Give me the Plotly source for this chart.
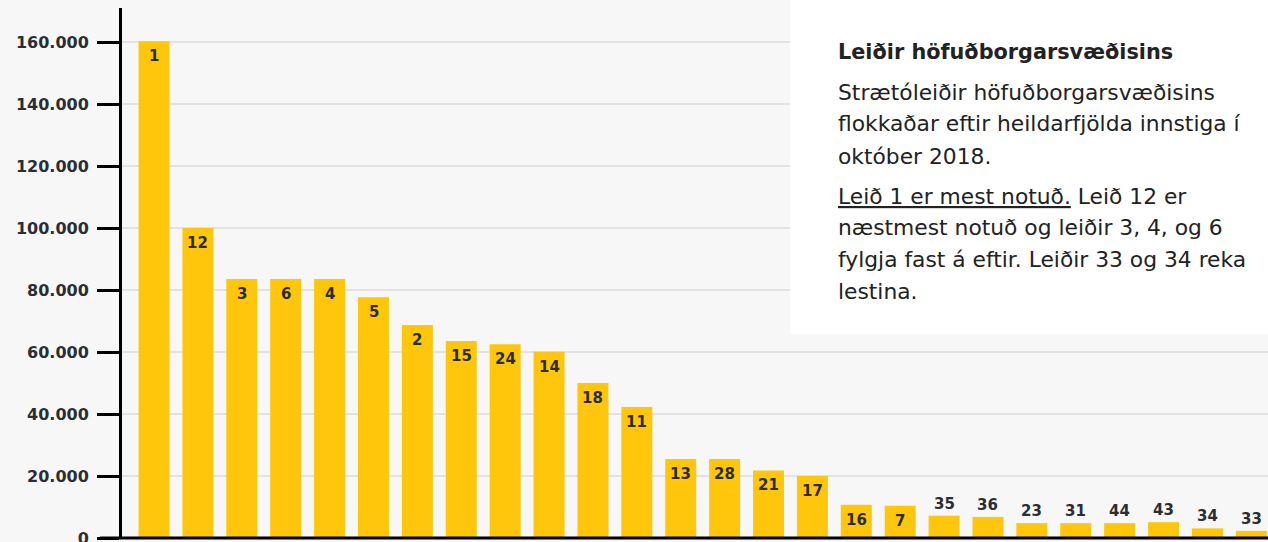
import plotly.graph_objects as go

routes = ["1", "12", "3", "6", "4", "5", "2", "15", "24", "14", "18", "11", "13",
          "28", "21", "17", "16", "7", "35", "36", "23", "31", "44", "43", "34", "33"]
boardings = [160300, 100000, 83600, 83600, 83600, 77700, 68700, 63600, 62500, 60100,
             50000, 42300, 25500, 25500, 21800, 20000, 10700, 10400, 7200, 6800,
             4800, 4800, 4800, 5100, 3100, 2300]
tick_vals = [0, 20000, 40000, 60000, 80000, 100000, 120000, 140000, 160000]
tick_text = ["0", "20.000", "40.000", "60.000", "80.000", "100.000", "120.000", "140.000", "160.000"]

title_text = "<b>Leiðir höfuðborgarsvæðisins</b>"
body_lines = [
    "Strætóleiðir höfuðborgarsvæðisins",
    "flokkaðar eftir heildarfjölda innstiga í",
    "október 2018.",
    "<u>Leið 1 er mest notuð.</u> Leið 12 er",
    "næstmest notuð og leiðir 3, 4, og 6",
    "fylgja fast á eftir. Leiðir 33 og 34 reka",
    "lestina.",
]

W, H = 1268, 542
ML, MR, MT, MB = 122, 0, 8, 4
PW, PH = W - ML - MR, H - MT - MB

BAR = "#FFC60B"
BG = "#F7F7F7"
TXT = "#2b2d33"
FONT = "DejaVu Sans"

fig = go.Figure()
fig.add_trace(go.Bar(
    x=routes, y=boardings, marker=dict(color=BAR, line=dict(width=0)),
    width=0.706, hoverinfo="x+y",
))

annotations = []
for i, (r, v) in enumerate(zip(routes, boardings)):
    inside = v > 9000
    annotations.append(dict(
        x=i, y=v, xref="x", yref="y", text="<b>%s</b>" % r, showarrow=False,
        yanchor="middle", yshift=(-15 if inside else 12),
        font=dict(family=FONT, size=15, color=TXT),
    ))


def px_to_paper_x(px):
    return (px - ML) / PW


def px_to_paper_y(py):
    return (H - MB - py) / PH


annotations.append(dict(
    x=px_to_paper_x(836), y=px_to_paper_y(52), xref="paper", yref="paper",
    text=title_text, showarrow=False, xanchor="left", yanchor="middle",
    font=dict(family=FONT, size=20.8, color="#222222"),
))
line_y = [93, 124, 156, 196, 227, 259, 291]
for t, py in zip(body_lines, line_y):
    annotations.append(dict(
        x=px_to_paper_x(836), y=px_to_paper_y(py), xref="paper", yref="paper",
        text=t, showarrow=False, xanchor="left", yanchor="middle",
        font=dict(family=FONT, size=21.8, color="#222222"),
    ))

shapes = [
    dict(type="rect", xref="paper", yref="paper",
         x0=px_to_paper_x(790), x1=1.01, y0=px_to_paper_y(334), y1=px_to_paper_y(-5),
         fillcolor="white", line=dict(width=0), layer="above"),
    dict(type="line", xref="paper", yref="paper",
         x0=px_to_paper_x(100), x1=1.0, y0=0, y1=0,
         line=dict(color="black", width=3), layer="above"),
]

fig.update_layout(
    width=W, height=H,
    margin=dict(l=ML, r=MR, t=MT, b=MB, pad=0, autoexpand=False),
    paper_bgcolor=BG, plot_bgcolor=BG,
    showlegend=False,
    bargap=0.3,
    annotations=annotations,
    shapes=shapes,
    xaxis=dict(type="category", range=[-0.73, 25.38], showticklabels=False,
               showgrid=False, zeroline=False, showline=False, ticks="",
               automargin=False),
    yaxis=dict(range=[0, 171000], tickvals=tick_vals, ticktext=tick_text,
               ticks="outside", ticklen=22, tickwidth=3, tickcolor="black",
               showline=True, linecolor="black", linewidth=3,
               showgrid=True, gridcolor="#e2e2e2", gridwidth=1.5,
               zeroline=False, ticklabelstandoff=5, ticklabeloverflow="allow",
               automargin=False,
               tickfont=dict(family=FONT, size=16, color=TXT, weight="bold")),
)

fig.write_html("out.html", config={"displayModeBar": False},
               post_script="document.body.style.margin='0';document.body.style.background='%s';" % BG)
